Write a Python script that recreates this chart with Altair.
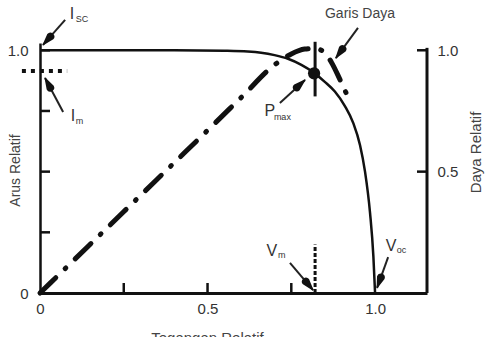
import math
import altair as alt
import pandas as pd

# ---- data ----
cur_v = [0, 0.2, 0.4, 0.55, 0.62, 0.66, 0.70, 0.74, 0.78, 0.815, 0.85, 0.88, 0.91, 0.935, 0.955, 0.97, 0.985, 0.995, 1.0]
cur_i = [1.0, 1.0, 1.0, 0.998, 0.995, 0.99, 0.98, 0.965, 0.94, 0.91, 0.87, 0.83, 0.77, 0.70, 0.61, 0.50, 0.33, 0.15, 0.0]

pow_v = [0, 0.1, 0.2, 0.3, 0.4, 0.5, 0.6, 0.7, 0.75, 0.79, 0.82, 0.845, 0.87, 0.895, 0.915]
pow_p = [0, 0.134, 0.268, 0.402, 0.536, 0.67, 0.805, 0.94, 0.985, 1.005, 1.008, 0.995, 0.95, 0.88, 0.82]

x_ticks = [0, 0.5, 1.0]
left_ticks = [0.25, 0.5, 0.75, 1.0]
bottom_ticks = [0.25, 0.5, 0.75]
right_ticks = [0.5, 1.0]

pmax_v, pmax_i = 0.818, 0.905
vm = 0.821
im = 0.915

# annotation texts (data coordinates)
main_txt = ["I", "I", "P", "V", "V"]
main_x = [0.0955, 0.0985, 0.686, 0.692, 1.048]
main_y = [1.150, 0.729, 0.750, 0.173, 0.194]
sub_txt = ["SC", "m", "max", "m", "oc"]
sub_x = [0.107, 0.107, 0.698, 0.710, 1.065]
sub_y = [1.129, 0.709, 0.725, 0.157, 0.177]

# arrows (start -> end), data coordinates
arr_x1 = [0.075, 0.069, 0.716, 0.949, 0.746, 1.039]
arr_y1 = [1.125, 0.746, 0.783, 1.092, 0.124, 0.148]
arr_x2 = [0.009, 0.015, 0.791, 0.883, 0.815, 1.006]
arr_y2 = [1.022, 0.886, 0.878, 0.968, 0.012, 0.021]

W, H = 387, 250
XD = [0, 1.155]
YD = [0, 1.03]
kx = W / (XD[1] - XD[0])
ky = H / (YD[1] - YD[0])

xs = alt.Scale(domain=XD, nice=False, zero=False)
ys = alt.Scale(domain=YD, nice=False, zero=False)

FONT = "Liberation Sans, Arial, sans-serif"
NARROW = "Liberation Sans Narrow, Arial Narrow, sans-serif"
INK = "#111"

cur_df = pd.DataFrame({"v": cur_v, "i": cur_i})
pow_df = pd.DataFrame({"v": pow_v, "p": pow_p})

x_axis = alt.Axis(values=x_ticks,
                  labelExpr="datum.value == 0 ? '0' : format(datum.value, '.1f')",
                  ticks=False, tickSize=0, domainColor=INK, domainWidth=3,
                  labelFont=FONT, labelFontSize=15, labelColor="#333", labelPadding=8,
                  labelFlush=False, grid=False,
                  title="Tegangan Relatif", titleFont=FONT, titleFontSize=15,
                  titleFontWeight="normal", titleColor="#444",
                  titleX=167, titleY=37, titleBaseline="top", titleAlign="center")

left_axis = alt.Axis(values=[0, 1], labelExpr="datum.value == 0 ? '0' : '1.0'",
                     ticks=False, tickSize=0, domainColor=INK, domainWidth=2.5,
                     labelFont=FONT, labelFontSize=15, labelColor="#333", labelPadding=12,
                     grid=False,
                     title="Arus Relatif", titleFont=FONT, titleFontSize=14,
                     titleFontWeight="normal", titleColor="#444", titleAngle=270,
                     titleX=-25, titleY=127, titleAlign="center", titleBaseline="middle")

right_axis = alt.Axis(orient="right", values=right_ticks, format=".1f",
                      ticks=False, tickSize=0, domain=False,
                      labelFont=NARROW, labelFontSize=15, labelColor="#333",
                      labelPadding=10, grid=False,
                      title="Daya Relatif", titleFont=NARROW,
                      titleFontSize=15, titleFontWeight="normal", titleColor="#444",
                      titleAngle=270, titleX=48, titleY=109,
                      titleAlign="center", titleBaseline="middle")

current = alt.Chart(cur_df).mark_line(interpolate="monotone", color=INK, strokeWidth=2.5).encode(
    x=alt.X("v:Q", scale=xs, axis=x_axis),
    y=alt.Y("i:Q", scale=ys, axis=left_axis))

power = alt.Chart(pow_df).mark_line(interpolate="monotone", color=INK, strokeWidth=5,
                                     strokeDash=[22, 13, 1, 13], strokeCap="round").encode(
    x=alt.X("v:Q", scale=xs, axis=None),
    y=alt.Y("p:Q", scale=ys, axis=right_axis))

# inward ticks
lt = alt.Chart(pd.DataFrame({"t": left_ticks})).mark_rule(color=INK, strokeWidth=2.5).encode(
    y=alt.Y("t:Q", scale=ys, axis=None), x=alt.value(0), x2=alt.value(10))
bt = alt.Chart(pd.DataFrame({"t": bottom_ticks})).mark_rule(color=INK, strokeWidth=2.5).encode(
    x=alt.X("t:Q", scale=xs, axis=None), y=alt.value(H), y2=alt.value(H - 10))
rt = alt.Chart(pd.DataFrame({"t": right_ticks})).mark_rule(color=INK, strokeWidth=2.5).encode(
    y=alt.Y("t:Q", scale=ys, axis=None), x=alt.value(W), x2=alt.value(W - 10))
rline = alt.Chart(pd.DataFrame({"a": [0], "b": [1.01]})).mark_rule(color=INK, strokeWidth=3).encode(
    x=alt.value(W), y=alt.Y("a:Q", scale=ys, axis=None), y2="b:Q")

# Im dotted line
im_line = alt.Chart(pd.DataFrame({"a": [-0.054], "b": [0.081], "y": [im]})).mark_rule(
    color=INK, strokeWidth=4, strokeDash=[4, 5]).encode(
    x=alt.X("a:Q", scale=xs, axis=None), x2="b:Q", y=alt.Y("y:Q", scale=ys, axis=None))

# Vm dashed line
vm_line = alt.Chart(pd.DataFrame({"x": [vm], "a": [0], "b": [0.2]})).mark_rule(
    color=INK, strokeWidth=3, strokeDash=[4, 2]).encode(
    x=alt.X("x:Q", scale=xs, axis=None), y=alt.Y("a:Q", scale=ys, axis=None), y2="b:Q")

# Pmax marker
pm_line = alt.Chart(pd.DataFrame({"x": [vm], "a": [0.81], "b": [1.035]})).mark_rule(
    color=INK, strokeWidth=3).encode(
    x=alt.X("x:Q", scale=xs, axis=None), y=alt.Y("a:Q", scale=ys, axis=None), y2="b:Q")
pm_dot = alt.Chart(pd.DataFrame({"x": [pmax_v], "y": [pmax_i]})).mark_point(
    filled=True, color=INK, size=150, opacity=1, shape="circle").encode(
    x=alt.X("x:Q", scale=xs, axis=None), y=alt.Y("y:Q", scale=ys, axis=None))

# arrows: shaft as rule, head as a tapering trail (base -> tip)
arr_df = pd.DataFrame({"sx": arr_x1, "sy": arr_y1, "ex": arr_x2, "ey": arr_y2})
shafts = alt.Chart(arr_df).mark_rule(color="#222", strokeWidth=2).encode(
    x=alt.X("sx:Q", scale=xs, axis=None), y=alt.Y("sy:Q", scale=ys, axis=None),
    x2="ex:Q", y2="ey:Q")

HEAD_LEN = 11.0   # px
HEAD_W = 8.0      # px
hx, hy, hw, hid, hord = [], [], [], [], []
for k, (a, b, c, d) in enumerate(zip(arr_x1, arr_x2, arr_y1, arr_y2)):
    dxp, dyp = (b - a) * kx, (d - c) * ky
    L = math.hypot(dxp, dyp)
    bx = b - dxp / L * HEAD_LEN / kx
    by = d - dyp / L * HEAD_LEN / ky
    hx += [bx, b]; hy += [by, d]; hw += [HEAD_W, 0.0]; hid += [k, k]; hord += [0, 1]
head_df = pd.DataFrame({"hx": hx, "hy": hy, "hw": hw, "hid": hid, "hord": hord})
heads = alt.Chart(head_df).mark_trail(color="#111", opacity=1).encode(
    x=alt.X("hx:Q", scale=xs, axis=None), y=alt.Y("hy:Q", scale=ys, axis=None),
    size=alt.Size("hw:Q", scale=None, legend=None),
    detail="hid:N", order="hord:Q")

main_t = alt.Chart(pd.DataFrame({"x": main_x, "y": main_y, "t": main_txt})).mark_text(
    font=FONT, fontSize=16, color="#333", align="center", baseline="middle").encode(
    x=alt.X("x:Q", scale=xs, axis=None), y=alt.Y("y:Q", scale=ys, axis=None), text="t:N")
sub_t = alt.Chart(pd.DataFrame({"x": sub_x, "y": sub_y, "t": sub_txt})).mark_text(
    font=FONT, fontSize=9, color="#333", align="left", baseline="middle").encode(
    x=alt.X("x:Q", scale=xs, axis=None), y=alt.Y("y:Q", scale=ys, axis=None), text="t:N")
garis = alt.Chart(pd.DataFrame({"x": [0.955], "y": [1.150], "t": ["Garis Daya"]})).mark_text(
    font=FONT, fontSize=14, color="#444", align="center", baseline="middle").encode(
    x=alt.X("x:Q", scale=xs, axis=None), y=alt.Y("y:Q", scale=ys, axis=None), text="t:N")

chart = alt.layer(current, power, lt, bt, rt, rline, im_line, vm_line, pm_line, pm_dot,
                  shafts, heads, main_t, sub_t, garis).resolve_scale(
    y="shared", x="shared").resolve_axis(y="independent", x="independent").properties(
    width=W, height=H, autosize="none",
    padding={"left": 40, "top": 43, "right": 485 - 40 - W, "bottom": 337 - 43 - H},
    background="white").configure_view(stroke=None)

chart.save("out.html", embed_options={"renderer": "svg", "actions": False})
